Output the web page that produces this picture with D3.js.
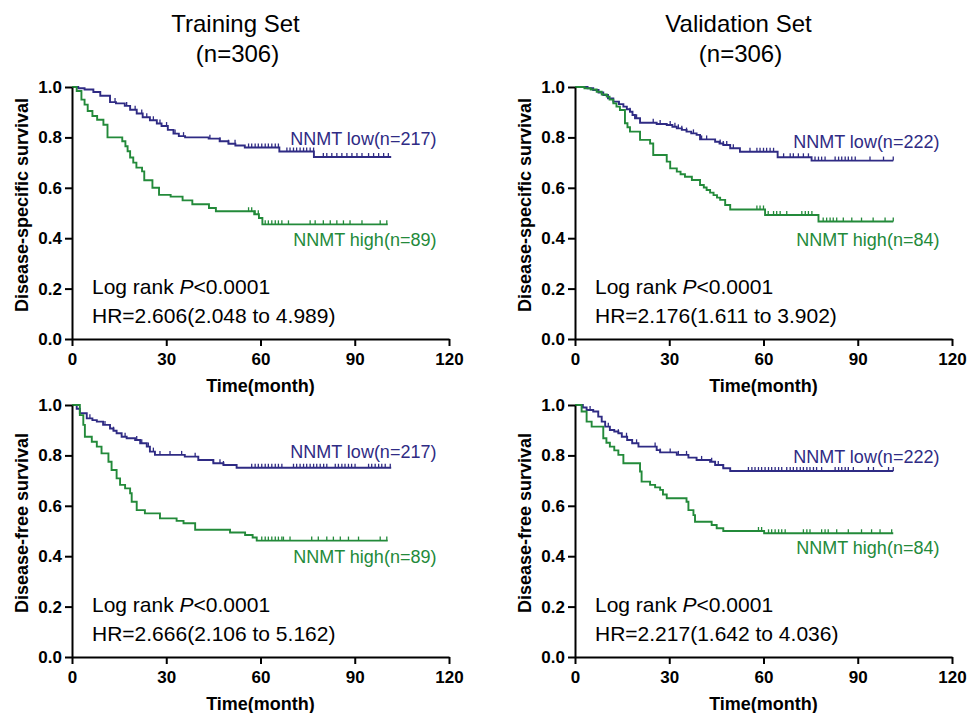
<!DOCTYPE html>
<html>
<head>
<meta charset="utf-8">
<script src="https://cdn.jsdelivr.net/npm/d3@7/dist/d3.min.js"></script>
<style>
  body { margin: 0; background: #fff; }
  text { font-family: Arial, "Liberation Sans", sans-serif; }
</style>
</head>
<body>
<script>
// step points [month, survival]; censor marks as months
var trainDssLow = [[2,0.995],[4,0.99],[6.8,0.98],[9,0.965],[12.1,0.94],[14,0.935],[16.8,0.925],[18.5,0.91],[20.6,0.895],[22.5,0.88],[24.8,0.868],[27,0.855],[28.5,0.845],[30.5,0.83],[32.3,0.815],[34,0.805],[36,0.80],[43.5,0.795],[47,0.785],[49.8,0.775],[52,0.768],[55,0.76],[66,0.744],[77,0.722]];
var trainDssLowEnd = 101.6;
var trainDssLowCens = [13.7,17.4,20.1,22.2,23.8,25.9,28,30.1,32.8,35.5,43.9,47.1,49.8,51.9,56.2,57.2,58.3,59.3,60.4,61.5,62.5,63.6,64.7,65.7,68.4,69.4,70.5,71.5,72.6,73.7,74.7,75.8,76.9,80,81.1,82.7,84.3,85.9,87.5,89.1,90.7,92.3,94.4,96,97.6,99.2,100.7];
var trainDssHigh = [[1.5,0.984],[3,0.95],[4,0.93],[5,0.905],[6.5,0.885],[8,0.87],[10,0.85],[11.3,0.80],[16,0.785],[17,0.765],[17.7,0.745],[18.5,0.72],[19.5,0.70],[20.5,0.68],[22.3,0.665],[23,0.63],[25.6,0.60],[27.7,0.572],[31.4,0.565],[35.2,0.55],[38.3,0.535],[43.6,0.52],[45.8,0.507],[58,0.495],[59.5,0.48],[60.6,0.455]];
var trainDssHighEnd = 100.5;
var trainDssHighCens = [56.2,57.2,58.3,59.3,61.5,62.5,63.6,64.7,65.7,66.8,68.9,75.8,77.4,80,82.2,84.3,86.4,88.5,92.3,98.1,100.2];

var validDssLow = [[4,0.995],[5.8,0.988],[7.5,0.978],[9,0.968],[10.5,0.955],[12.2,0.942],[14,0.932],[15.4,0.922],[16.5,0.912],[17.5,0.902],[18.3,0.889],[19.1,0.876],[20.7,0.858],[26,0.853],[29.2,0.849],[31,0.842],[32.4,0.836],[34,0.83],[35.5,0.823],[37,0.816],[38.7,0.81],[39.8,0.792],[44.6,0.783],[46,0.776],[47.2,0.77],[49.4,0.757],[52.5,0.743],[64.5,0.721],[75.3,0.708]];
var validDssLowEnd = 101.3;
var validDssLowCens = [17.5,19.6,24.9,27.1,30.3,31.8,32.9,34,35.5,37.7,40.3,41.9,46.2,47.2,48.3,50.4,55.7,57.9,58.9,60,61,62.1,63.2,66.4,68.5,69.5,71.1,72.7,74.3,76.4,77.5,78.5,79.6,82.8,83.9,84.9,86,87,88.1,89.2,93.9,98.2,101.3];
var validDssHigh = [[3,0.995],[5,0.99],[6.9,0.981],[8.5,0.97],[10.1,0.962],[11,0.95],[12.2,0.935],[13.2,0.922],[14.3,0.909],[15.9,0.856],[16.7,0.84],[17.5,0.823],[20.7,0.79],[23.9,0.776],[24.9,0.73],[29.2,0.704],[30.3,0.677],[32.4,0.664],[33.6,0.654],[35,0.644],[37.2,0.631],[39.8,0.611],[41,0.601],[41.9,0.591],[43,0.581],[44.1,0.571],[45.2,0.561],[46.2,0.552],[47.8,0.532],[49.4,0.514],[60.5,0.492],[77.5,0.466]];
var validDssHighEnd = 101.3;
var validDssHighCens = [57.9,58.9,60,61.5,63.2,64.2,65.3,67.4,72.2,73.3,74.3,75.4,79,80.1,81.2,82.2,83.3,85.4,88.1,91.2,94.9,98.7,101.3];

var trainDfsLow = [[1.5,0.985],[2.5,0.967],[4.7,0.947],[6.5,0.94],[7.9,0.934],[9.9,0.921],[12.1,0.907],[13.2,0.898],[14.2,0.888],[15.8,0.874],[17.4,0.868],[20.1,0.861],[21.7,0.848],[23.8,0.835],[24.8,0.815],[26.4,0.802],[35.9,0.795],[40.2,0.782],[45,0.769],[48.2,0.762],[52.4,0.751]];
var trainDfsLowEnd = 101.6;
var trainDfsLowCens = [5.7,10.5,13.2,16.9,20.6,22.2,24.3,25.9,28,31.2,34.9,39.2,45,47.1,48.2,57.2,58.3,59.3,60.4,61.5,62.5,63.6,64.7,65.7,66.8,70.5,71.5,72.6,73.7,74.7,75.8,76.9,77.9,79,80.1,81.1,83.8,84.8,85.9,86.9,88,89,90.1,94.4,95.4,96.5,97.6,98.6,99.7,101.3];
var trainDfsHigh = [[2.5,0.96],[3.6,0.921],[4.1,0.874],[6.3,0.854],[7.9,0.835],[9.4,0.808],[11.6,0.775],[12.6,0.742],[14.2,0.709],[15.3,0.683],[16.9,0.669],[18.5,0.65],[19,0.616],[20.6,0.583],[23.2,0.57],[28,0.55],[33.3,0.54],[35.5,0.531],[39.2,0.505],[50.3,0.494],[55.1,0.484],[57.5,0.474],[58.8,0.462]];
var trainDfsHighEnd = 100.5;
var trainDfsHighCens = [60.4,61.5,62.5,63.6,64.7,65.7,66.8,67.3,69.4,76.3,78.4,81.1,83.2,85.4,88,91.2,98.1,100.2];

var validDfsLow = [[2.5,0.99],[3.7,0.98],[5.8,0.974],[7.4,0.954],[8.5,0.934],[9.6,0.914],[11.1,0.901],[12.5,0.895],[13.8,0.888],[14.9,0.874],[16.6,0.861],[18.2,0.848],[20.2,0.835],[26,0.821],[27.1,0.812],[32.4,0.802],[36.1,0.791],[38.7,0.782],[43,0.775],[44.6,0.762],[47.2,0.749],[49.4,0.738]];
var validDfsLowEnd = 101.3;
var validDfsLowCens = [4.8,10.6,13.8,16.4,19.6,25.5,27.1,30.3,32.9,35.5,40.3,43.5,45.6,47.2,55.2,56.3,57.3,58.4,59.4,60.5,61.6,62.6,63.7,64.8,65.8,67.4,68.5,69.5,70.6,71.7,72.7,73.8,74.8,75.9,76.9,78.5,82.8,83.9,84.9,86,87,88.6,93.4,95,99.8,101.3];
var validDfsHigh = [[2.1,0.974],[3.7,0.934],[5.3,0.914],[9,0.868],[10,0.85],[11.1,0.835],[12.5,0.82],[13.8,0.802],[15.4,0.769],[20.7,0.736],[21.2,0.696],[23.9,0.683],[25.5,0.673],[27.1,0.663],[28,0.645],[29.2,0.63],[35.5,0.616],[36.1,0.583],[37.7,0.563],[38.2,0.537],[43.5,0.524],[45.1,0.511],[47.2,0.5],[60.2,0.491]];
var validDfsHighEnd = 101.3;
var validDfsHighCens = [58.4,59.4,61.6,62.6,63.7,64.8,65.8,66.9,72.7,73.8,74.8,78.5,79.6,80.6,83.3,87,91.2,94.4,97.1,100.8];

var xTicks = [0, 30, 60, 90, 120];
var yTicks = [0, 0.2, 0.4, 0.6, 0.8, 1.0];

var lowColor = "#2f2b84";
var highColor = "#238a3a";

var w = 969, h = 713;
var svg = d3.select("body").append("svg")
    .attr("width", w)
    .attr("height", h);

// panels: left/top of plot area
var panels = [
    {left: 72, top: 87, title: ["Training Set", "(n=306)"], ylab: "Disease-specific survival",
     low: trainDssLow, lowEnd: trainDssLowEnd, lowCens: trainDssLowCens, lowName: "NNMT low(n=217)", lowLab: 0.77,
     high: trainDssHigh, highEnd: trainDssHighEnd, highCens: trainDssHighCens, highName: "NNMT high(n=89)", highLab: 0.37,
     hr: "HR=2.606(2.048 to 4.989)"},
    {left: 575, top: 87, title: ["Validation Set", "(n=306)"], ylab: "Disease-specific survival",
     low: validDssLow, lowEnd: validDssLowEnd, lowCens: validDssLowCens, lowName: "NNMT low(n=222)", lowLab: 0.757,
     high: validDssHigh, highEnd: validDssHighEnd, highCens: validDssHighCens, highName: "NNMT high(n=84)", highLab: 0.37,
     hr: "HR=2.176(1.611 to 3.902)"},
    {left: 72, top: 405, title: null, ylab: "Disease-free survival",
     low: trainDfsLow, lowEnd: trainDfsLowEnd, lowCens: trainDfsLowCens, lowName: "NNMT low(n=217)", lowLab: 0.791,
     high: trainDfsHigh, highEnd: trainDfsHighEnd, highCens: trainDfsHighCens, highName: "NNMT high(n=89)", highLab: 0.373,
     hr: "HR=2.666(2.106 to 5.162)"},
    {left: 575, top: 405, title: null, ylab: "Disease-free survival",
     low: validDfsLow, lowEnd: validDfsLowEnd, lowCens: validDfsLowCens, lowName: "NNMT low(n=222)", lowLab: 0.77,
     high: validDfsHigh, highEnd: validDfsHighEnd, highCens: validDfsHighCens, highName: "NNMT high(n=84)", highLab: 0.409,
     hr: "HR=2.217(1.642 to 4.036)"}
];

var pw = 377, ph = 252;

// survival value at time t
function survAt(steps, t) {
    var s = 1;
    for (var i = 0; i < steps.length; i++) {
        if (steps[i][0] <= t) s = steps[i][1];
    }
    return s;
}

function stepPoints(steps, end) {
    var pts = [[0, 1]];
    steps.forEach(function(d) { pts.push([d[0], d[1]]); });
    pts.push([end, steps[steps.length - 1][1]]);
    return pts;
}

panels.forEach(function(p) {
    var g = svg.append("g").attr("transform", "translate(" + p.left + "," + p.top + ")");
    var x = d3.scaleLinear().domain([0, 120]).range([0, pw]);
    var y = d3.scaleLinear().domain([0, 1]).range([ph, 0]);

    var line = d3.line()
        .x(function(d) { return x(d[0]); })
        .y(function(d) { return y(d[1]); })
        .curve(d3.curveStepAfter);

    function drawCurve(steps, end, cens, color) {
        g.append("path")
            .datum(stepPoints(steps, end))
            .attr("d", line)
            .attr("fill", "none")
            .attr("stroke", color)
            .attr("stroke-width", 1.9);
        g.selectAll(null)
            .data(cens)
            .enter()
            .append("line")
            .attr("x1", function(d) { return x(d); })
            .attr("x2", function(d) { return x(d); })
            .attr("y1", function(d) { return y(survAt(steps, d)); })
            .attr("y2", function(d) { return y(survAt(steps, d)) - 4; })
            .attr("stroke", color)
            .attr("stroke-width", 1.3);
    }

    drawCurve(p.low, p.lowEnd, p.lowCens, lowColor);
    drawCurve(p.high, p.highEnd, p.highCens, highColor);

    //axes
    var xAxis = g.append("g")
        .attr("transform", "translate(0," + ph + ")")
        .call(d3.axisBottom(x).tickValues(xTicks).tickSize(7).tickSizeOuter(0).tickPadding(7));
    var yAxis = g.append("g")
        .call(d3.axisLeft(y).tickValues(yTicks).tickFormat(d3.format(".1f")).tickSize(7).tickSizeOuter(0).tickPadding(3));
    [xAxis, yAxis].forEach(function(a) {
        a.selectAll("path, line").attr("stroke", "#000").attr("stroke-width", 2);
        a.selectAll("text")
            .attr("fill", "#000")
            .style("font-size", "17px")
            .style("font-weight", "bold")
            .style("font-family", "Arial, 'Liberation Sans', sans-serif");
    });

    g.append("text")
        .attr("x", pw / 2)
        .attr("y", ph + 53)
        .attr("text-anchor", "middle")
        .style("font-size", "18px")
        .style("font-weight", "bold")
        .text("Time(month)");

    g.append("text")
        .attr("transform", "translate(-44," + (ph / 2 - 8) + ") rotate(-90)")
        .attr("text-anchor", "middle")
        .style("font-size", "18px")
        .style("font-weight", "bold")
        .text(p.ylab);

    if (p.title) {
        g.append("text")
            .attr("x", pw / 2 - 25)
            .attr("y", -55)
            .attr("text-anchor", "middle")
            .style("font-size", "24px")
            .text(p.title[0]);
        g.append("text")
            .attr("x", pw / 2 - 23)
            .attr("y", -25)
            .attr("text-anchor", "middle")
            .style("font-size", "24px")
            .text(p.title[1]);
    }

    // group labels
    g.append("text")
        .attr("x", x(116))
        .attr("y", y(p.lowLab))
        .attr("text-anchor", "end")
        .attr("fill", lowColor)
        .style("font-size", "18px")
        .text(p.lowName);
    g.append("text")
        .attr("x", x(116))
        .attr("y", y(p.highLab))
        .attr("text-anchor", "end")
        .attr("fill", highColor)
        .style("font-size", "18px")
        .text(p.highName);

    // log rank / HR
    var lr = g.append("text")
        .attr("x", 20)
        .attr("y", 207)
        .style("font-size", "21px");
    lr.append("tspan").text("Log rank ");
    lr.append("tspan").style("font-style", "italic").text("P");
    lr.append("tspan").text("<0.0001");
    g.append("text")
        .attr("x", 20)
        .attr("y", 236)
        .style("font-size", "21px")
        .text(p.hr);
});
</script>
</body>
</html>
